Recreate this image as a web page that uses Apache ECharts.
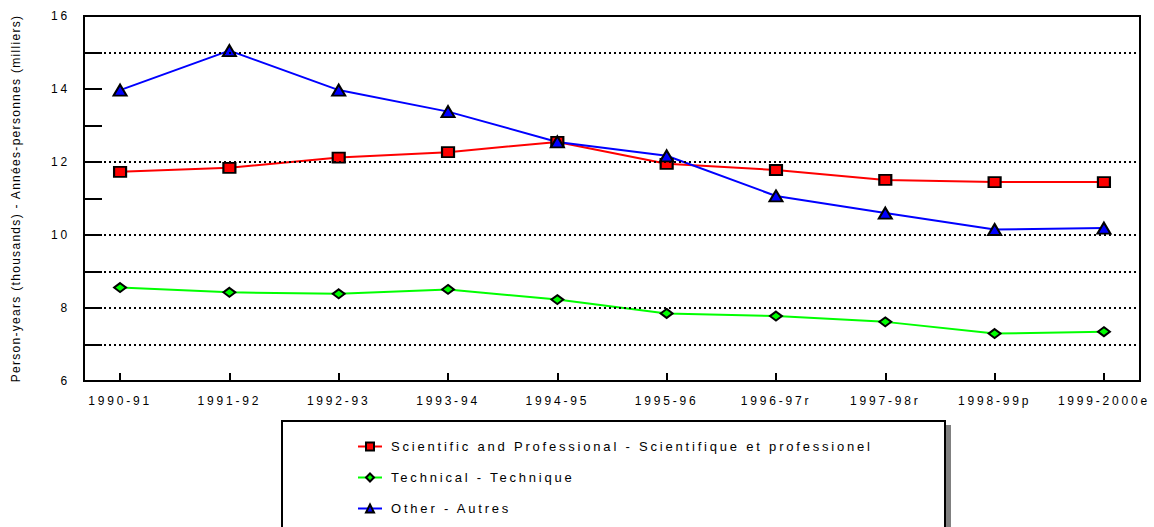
<!DOCTYPE html>
<html>
<head>
<meta charset="utf-8">
<script src="https://cdn.jsdelivr.net/npm/echarts@6/dist/echarts.min.js"></script>
<style>
  html, body { margin: 0; padding: 0; background: #fff; }
  #chart { width: 1154px; height: 527px; }
</style>
</head>
<body>
<div id="chart"></div>
<script>
// ---- data ----
const categories = ['1990-91', '1991-92', '1992-93', '1993-94', '1994-95', '1995-96', '1996-97r', '1997-98r', '1998-99p', '1999-2000e'];
const scientific = [11.73, 11.84, 12.12, 12.27, 12.55, 11.95, 11.78, 11.51, 11.45, 11.45];
const technical  = [8.56, 8.43, 8.39, 8.51, 8.23, 7.85, 7.78, 7.62, 7.30, 7.35];
const other      = [13.97, 15.05, 13.97, 13.38, 12.55, 12.17, 11.07, 10.60, 10.15, 10.19];
const yLabelValues = [6, 8, 10, 12, 14, 16];
const gridValues = [15, 12, 10, 9, 8, 7];
const seriesNames = ['Scientific and Professional - Scientifique et professionel', 'Technical - Technique', 'Other - Autres'];
const yTitle = 'Person-years (thousands) - Années-personnes (milliers)';

const idx = categories.map((c, i) => i);
const pairs = arr => arr.map((v, i) => [i, v]);

const chart = echarts.init(document.getElementById('chart'), null, { renderer: 'svg' });
const font = 'Liberation Sans, Arial, sans-serif';

function lineSeries(name, data, color, symbol, size) {
  return {
    name: name,
    type: 'line',
    data: pairs(data),
    symbol: symbol,
    symbolSize: size,
    z: 3,
    lineStyle: { color: color, width: 2 },
    itemStyle: { color: color, borderColor: '#000', borderWidth: 2 }
  };
}

chart.setOption({
  animation: false,
  textStyle: { fontFamily: font },
  grid: { left: 84, right: 14, top: 16, bottom: 146, show: true, borderColor: '#000', borderWidth: 2, backgroundColor: 'transparent' },
  graphic: [{
    type: 'rect',
    z: 0,
    shape: { x: 282, y: 421, width: 663, height: 130 },
    style: { fill: '#fff', stroke: '#000', lineWidth: 2, shadowColor: '#808080', shadowOffsetX: 5, shadowOffsetY: 5, shadowBlur: 0 }
  }],
  legend: {
    orient: 'vertical',
    left: 357,
    top: 440,
    padding: 0,
    itemWidth: 24,
    itemHeight: 10,
    itemGap: 18,
    z: 5,
    textStyle: { fontSize: 13, color: '#000', fontFamily: font, padding: [0, 0, 0, 4] },
    data: seriesNames
  },
  xAxis: {
    type: 'value',
    min: -0.33,
    max: 9.33,
    splitLine: { show: false },
    axisLine: { onZero: false, lineStyle: { color: '#000', width: 2 } },
    axisTick: { inside: true, length: 8, lineStyle: { color: '#000', width: 2 }, customValues: idx },
    axisLabel: { customValues: idx, formatter: v => categories[Math.round(v)], color: '#000', fontSize: 12, margin: 14, fontFamily: font }
  },
  yAxis: {
    type: 'value',
    min: 6,
    max: 16,
    interval: 1,
    name: yTitle,
    nameLocation: 'middle',
    nameRotate: 90,
    nameGap: 62,
    nameTextStyle: { fontSize: 12, color: '#000', fontFamily: font },
    splitLine: { show: false },
    axisLine: { onZero: false, lineStyle: { color: '#000', width: 2 } },
    axisTick: { inside: true, length: 18, lineStyle: { color: '#000', width: 2 } },
    axisLabel: { customValues: yLabelValues, color: '#000', fontSize: 12, margin: 14, fontFamily: font }
  },
  series: [
    {
      type: 'line',
      data: [],
      z: 1,
      silent: true,
      markLine: {
        silent: true,
        symbol: ['none', 'none'],
        label: { show: false },
        lineStyle: { color: '#000', width: 2, type: [2, 3] },
        data: gridValues.map(v => ({ yAxis: v }))
      }
    },
    lineSeries(seriesNames[0], scientific, '#ff0000', 'rect', [12, 10]),
    lineSeries(seriesNames[1], technical, '#00ff00', 'diamond', [12, 9]),
    lineSeries(seriesNames[2], other, '#0000ff', 'triangle', [13, 11])
  ]
});

function spaceText() {
  document.querySelectorAll('#chart text').forEach(t => {
    const s = t.textContent || '';
    if (s.indexOf('Person-years') === 0) t.style.letterSpacing = '1.3px';
    else if (seriesNames.indexOf(s) >= 0) t.style.letterSpacing = '2.8px';
    else t.style.letterSpacing = '2.8px';
  });
}
spaceText();
chart.on('finished', spaceText);
</script>
</body>
</html>
